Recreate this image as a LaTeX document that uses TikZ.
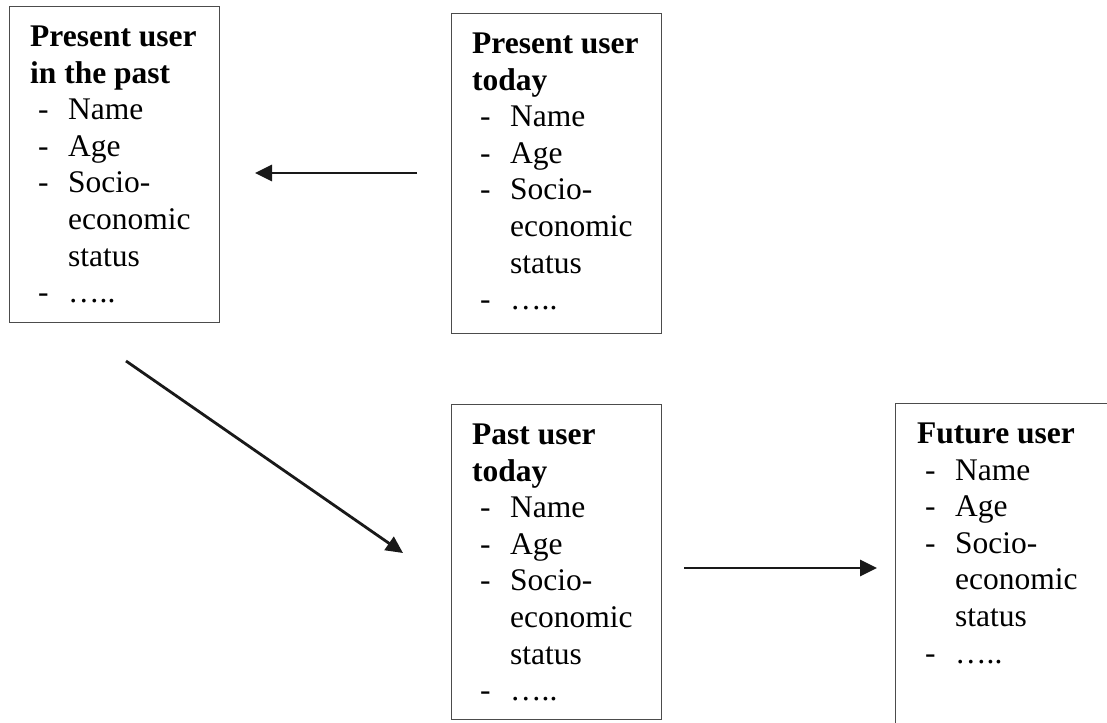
\documentclass[tikz,border=0pt]{standalone}
\usepackage{fontspec}
\setmainfont{Liberation Serif}
\usetikzlibrary{arrows.meta}

% one list entry: dash, then the entry text
\newcommand\lentry[1]{\makebox[38pt][l]{\hspace*{8pt}-}#1}
% continuation line of a wrapped entry
\newcommand\lcont[1]{\hspace*{38pt}#1}

\tikzset{
  userbox/.style={draw=black!70, line width=1.2pt, fill=white, rectangle,
    anchor=north west, inner sep=0pt},
  boxtext/.style={anchor=base west, inner sep=0pt, text=black,
    font=\fontsize{31.5}{36.6}\selectfont},
  flow/.style={line width=2.8pt, draw=black!90,
    -{Triangle[length=17pt,width=16pt]}}
}

\begin{document}
\begin{tikzpicture}[x=1pt,y=-1pt]
  \fill[white] (0,0) rectangle (1107,722);
  \useasboundingbox (0,0) rectangle (1107,722);
  \clip (0,0) rectangle (1107,722);

  % frames
  \node[userbox, minimum width=210pt, minimum height=316pt] (pastbox) at (9,6) {};
  \node[userbox, minimum width=210pt, minimum height=320pt] (todaybox) at (451,13) {};
  \node[userbox, minimum width=210pt, minimum height=315pt] (pastuserbox) at (451,404) {};
  \node[userbox, minimum width=230pt, minimum height=340pt] (futurebox) at (895,403) {};

  % contents
  \node[boxtext] (pasttext) at (30,46.5) {\parbox[t]{200pt}{%
    \textbf{Present user}\\
    \textbf{in the past}\\
    \lentry{Name}\\
    \lentry{Age}\\
    \lentry{Socio-}\\
    \lcont{economic}\\
    \lcont{status}\\
    \lentry{…..}}};

  \node[boxtext] (todaytext) at (472,53.5) {\parbox[t]{200pt}{%
    \textbf{Present user}\\
    \textbf{today}\\
    \lentry{Name}\\
    \lentry{Age}\\
    \lentry{Socio-}\\
    \lcont{economic}\\
    \lcont{status}\\
    \lentry{…..}}};

  \node[boxtext] (pastusertext) at (472,444.5) {\parbox[t]{200pt}{%
    \textbf{Past user}\\
    \textbf{today}\\
    \lentry{Name}\\
    \lentry{Age}\\
    \lentry{Socio-}\\
    \lcont{economic}\\
    \lcont{status}\\
    \lentry{…..}}};

  \node[boxtext] (futuretext) at (917,443.5) {\parbox[t]{200pt}{%
    \textbf{Future user}\\
    \lentry{Name}\\
    \lentry{Age}\\
    \lentry{Socio-}\\
    \lcont{economic}\\
    \lcont{status}\\
    \lentry{…..}}};

  % arrow ends
  \coordinate (a1s) at (417,173);
  \coordinate (a1e) at (255,173);
  \coordinate (a2s) at (126,361);
  \coordinate (a2e) at (403,553);
  \coordinate (a3s) at (684,568);
  \coordinate (a3e) at (877,568);

  \draw[flow] (a1s) -- (a1e);
  \draw[flow] (a2s) -- (a2e);
  \draw[flow] (a3s) -- (a3e);
\end{tikzpicture}
\end{document}
